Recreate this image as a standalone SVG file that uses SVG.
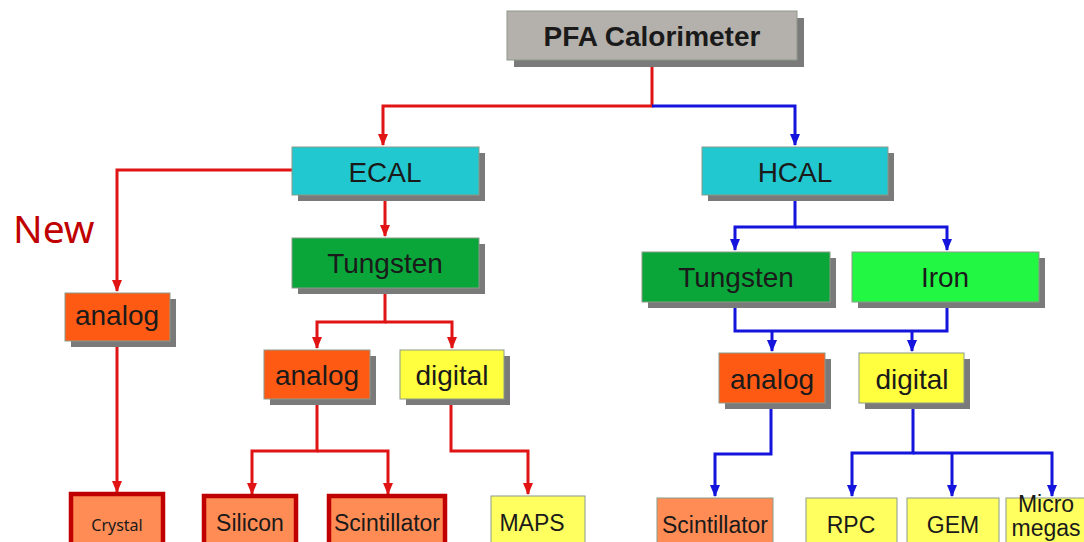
<svg xmlns="http://www.w3.org/2000/svg" width="1084" height="542" viewBox="0 0 1084 542">
<defs>
<marker id="ar" markerUnits="userSpaceOnUse" markerWidth="12" markerHeight="12" refX="11" refY="6" orient="auto"><path d="M0,1 L12,6 L0,11 z" fill="#e01414"/></marker>
<marker id="ab" markerUnits="userSpaceOnUse" markerWidth="12" markerHeight="12" refX="11" refY="6" orient="auto"><path d="M0,1 L12,6 L0,11 z" fill="#1414dc"/></marker>
</defs>
<style>
.sh{fill:#7a7a7a}
.bx{stroke:#8a9a8a;stroke-width:1}
.t{font-family:"Liberation Sans",Arial,sans-serif;font-size:28px;fill:#1a1a1a;text-anchor:middle}
.s{font-family:"Liberation Sans",Arial,sans-serif;font-size:23px;fill:#1a1a1a;text-anchor:middle}
.r{fill:none;stroke:#e01414;stroke-width:3}
.b{fill:none;stroke:#1414dc;stroke-width:3}
.thick{stroke:#c00000;stroke-width:4.5}
</style>
<rect width="1084" height="542" fill="#ffffff"/>
<g id="connectors">
<path class="r" d="M652,60 V106 H383 V145" marker-end="url(#ar)"/>
<path class="b" d="M652,106 H795 V145" marker-end="url(#ab)"/>
<path class="r" d="M292,170 H117 V291" marker-end="url(#ar)"/>
<path class="r" d="M385,195 V236" marker-end="url(#ar)"/>
<path class="r" d="M385,288 V322 H317 V348" marker-end="url(#ar)"/>
<path class="r" d="M385,322 H452 V348" marker-end="url(#ar)"/>
<path class="r" d="M117,341 V492" marker-end="url(#ar)"/>
<path class="r" d="M317,399 V451 H252 V494" marker-end="url(#ar)"/>
<path class="r" d="M317,451 H388 V494" marker-end="url(#ar)"/>
<path class="r" d="M451,399 V451 H528 V494" marker-end="url(#ar)"/>
<path class="b" d="M795,195 V227 H735 V250" marker-end="url(#ab)"/>
<path class="b" d="M795,227 H947 V250" marker-end="url(#ab)"/>
<path class="b" d="M735,302 V331 H947 V302"/>
<path class="b" d="M772,331 V351" marker-end="url(#ab)"/>
<path class="b" d="M912,331 V351" marker-end="url(#ab)"/>
<path class="b" d="M771,403 V454 H715 V496" marker-end="url(#ab)"/>
<path class="b" d="M913,403 V453 H852 V496" marker-end="url(#ab)"/>
<path class="b" d="M913,453 H1052 V496" marker-end="url(#ab)"/>
<path class="b" d="M952,453 V496" marker-end="url(#ab)"/>
</g>
<text x="13" y="243" font-family="'Noto Sans','Liberation Sans',sans-serif" font-size="39" fill="#c00000">New</text>
<g id="pfa"><rect class="sh" x="514" y="18" width="290" height="49"/><rect class="bx" x="507" y="11" width="290" height="49" fill="#b4b0ac"/><text class="t" x="652" y="46" font-weight="bold" font-size="29">PFA Calorimeter</text></g>
<g id="ecal"><rect class="sh" x="298" y="153" width="187" height="48"/><rect class="bx" x="292" y="147" width="187" height="48" fill="#22c8d0"/><text class="t" x="385" y="182">ECAL</text></g>
<g id="hcal"><rect class="sh" x="708" y="153" width="186" height="48"/><rect class="bx" x="702" y="147" width="186" height="48" fill="#22c8d0"/><text class="t" x="795" y="182">HCAL</text></g>
<g id="ecal-tungsten"><rect class="sh" x="298" y="244" width="187" height="50"/><rect class="bx" x="292" y="238" width="187" height="50" fill="#0aa63a"/><text class="t" x="385" y="273">Tungsten</text></g>
<g id="hcal-tungsten"><rect class="sh" x="648" y="258" width="188" height="50"/><rect class="bx" x="642" y="252" width="188" height="50" fill="#0aa63a"/><text class="t" x="736" y="287">Tungsten</text></g>
<g id="iron"><rect class="sh" x="858" y="258" width="187" height="50"/><rect class="bx" x="852" y="252" width="187" height="50" fill="#22f844"/><text class="t" x="945" y="287">Iron</text></g>
<g id="analog-new"><rect class="sh" x="71" y="299" width="105" height="48"/><rect class="bx" x="65" y="293" width="105" height="48" fill="#ff5a14"/><text class="t" x="117" y="325">analog</text></g>
<g id="ecal-analog"><rect class="sh" x="270" y="356" width="106" height="49"/><rect class="bx" x="264" y="350" width="106" height="49" fill="#ff5a14"/><text class="t" x="317" y="385">analog</text></g>
<g id="ecal-digital"><rect class="sh" x="406" y="356" width="104" height="49"/><rect class="bx" x="400" y="350" width="104" height="49" fill="#ffff40"/><text class="t" x="452" y="385">digital</text></g>
<g id="hcal-analog"><rect class="sh" x="725" y="359" width="106" height="50"/><rect class="bx" x="719" y="353" width="106" height="50" fill="#ff5a14"/><text class="t" x="772" y="389">analog</text></g>
<g id="hcal-digital"><rect class="sh" x="865" y="359" width="105" height="50"/><rect class="bx" x="859" y="353" width="105" height="50" fill="#ffff40"/><text class="t" x="912" y="389">digital</text></g>
<g id="crystal"><rect class="thick" x="71" y="494" width="92" height="70" fill="#ff8c55"/><text x="117" y="531" font-family="'Noto Sans','Liberation Sans',sans-serif" font-size="16" fill="#1a1a1a" text-anchor="middle">Crystal</text></g>
<g id="silicon"><rect class="thick" x="204" y="496" width="92" height="70" fill="#ff8c55"/><text class="s" x="250" y="531">Silicon</text></g>
<g id="ecal-scint"><rect class="thick" x="329" y="496" width="116" height="70" fill="#ff8c55"/><text class="s" x="387" y="531" textLength="106" lengthAdjust="spacingAndGlyphs">Scintillator</text></g>
<g id="maps"><rect class="bx" x="491" y="496" width="94" height="70" fill="#ffff60"/><text class="s" x="532" y="531">MAPS</text></g>
<g id="hcal-scint"><rect class="bx" x="657" y="498" width="116" height="70" fill="#ff8c55"/><text class="s" x="715" y="533" textLength="106" lengthAdjust="spacingAndGlyphs">Scintillator</text></g>
<g id="rpc"><rect class="bx" x="806" y="498" width="91" height="70" fill="#ffff60"/><text class="s" x="851" y="533">RPC</text></g>
<g id="gem"><rect class="bx" x="907" y="498" width="92" height="70" fill="#ffff60"/><text class="s" x="953" y="533">GEM</text></g>
<g id="micromegas"><rect class="bx" x="1006" y="498" width="100" height="70" fill="#ffff60"/><text class="s" x="1046" y="512" font-size="18">Micro</text><text class="s" x="1046" y="536" font-size="18">megas</text></g>
</svg>
